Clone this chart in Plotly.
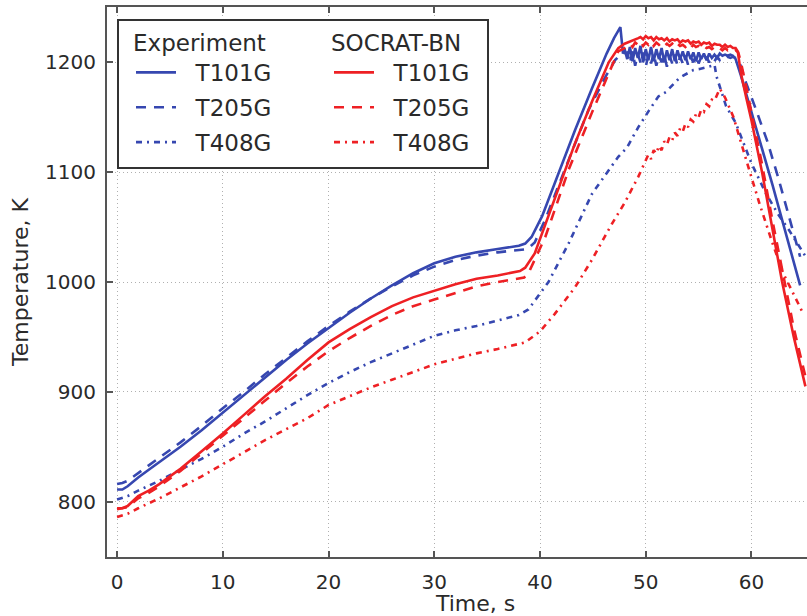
import numpy as np
import plotly.graph_objects as go

# ---------------- data ----------------
# Experiment T101G (blue solid)
exp101_t = [0, 0.5, 1, 2, 3, 4, 5, 6, 8, 10, 12, 14, 16, 18, 20, 22, 24, 26, 28, 30,
            32, 34, 36, 38, 38.6, 39.2, 40.2, 41.7, 43.3, 44.9, 46.3, 47.0, 47.6, 47.85]
exp101_T = [811, 811, 814, 822, 829, 836, 843, 850, 865, 881, 897, 913, 929, 944, 958, 972, 985, 997, 1008, 1017,
            1023, 1027, 1030, 1033, 1035, 1041, 1060, 1098, 1138, 1176, 1208, 1222, 1232, 1208]
exp101_plat_start = 48.0
exp101_plat_T = [1212, 1203, 1214, 1201, 1213, 1204, 1215, 1200, 1212, 1202, 1214, 1201, 1212, 1203,
                 1213, 1200, 1211, 1202, 1212, 1201, 1211, 1203, 1210, 1202, 1210, 1203, 1209, 1201,
                 1209, 1203, 1208, 1202, 1208, 1204, 1207, 1204, 1208, 1206, 1207, 1206, 1207, 1206]
exp101_tail_t = [58.5, 59, 60, 61, 62, 63, 64, 64.6]
exp101_tail_T = [1203, 1188, 1155, 1122, 1088, 1053, 1018, 997]

# Experiment T205G (blue dashed)
exp205_t = [0, 0.5, 1, 2, 4, 6, 8, 10, 12, 14, 16, 18, 20, 22, 24, 26, 28, 30, 32, 34, 36, 38,
            38.8, 39.5, 40.5, 42.7, 44.6, 46.2, 47.1, 47.7]
exp205_T = [816, 817, 819, 826, 840, 854, 869, 885, 900, 916, 931, 946, 960, 973, 985, 996, 1006, 1014,
            1020, 1024, 1027, 1029, 1030, 1036, 1057, 1111, 1157, 1187, 1202, 1208]
exp205_plat_start = 48.25
exp205_plat_T = [1209, 1199, 1210, 1197, 1208, 1200, 1209, 1196, 1207, 1199, 1208, 1197, 1206, 1200,
                 1207, 1196, 1206, 1199, 1207, 1197, 1205, 1199, 1206, 1198, 1205, 1200, 1206, 1199,
                 1205, 1201, 1205, 1200, 1204, 1201, 1205, 1202, 1204, 1203, 1205, 1204, 1205, 1204]
exp205_tail_t = [58.75, 59.0, 59.5, 60.5, 61.5, 62.5, 63.5, 64.6]
exp205_tail_T = [1203, 1196, 1181, 1155, 1128, 1096, 1062, 1023]

# Experiment T408G (blue dash-dot)
exp408_t = [0, 1, 2, 4, 6, 8, 10, 12, 14, 16, 18, 20, 22, 24, 26, 28, 30, 32, 34, 36, 38, 38.9,
            39.8, 40.8, 42.7, 44.9, 46.0, 47.4, 48.2, 49.3, 50.3, 51.2, 51.9, 53.2, 54.5, 55.1,
            56.3, 56.5, 56.7, 57.6, 58.5, 60.0, 61.4, 62.5, 63.5, 65.2]
exp408_T = [802, 805, 810, 819, 829, 839, 850, 862, 873, 885, 897, 908, 918, 927, 935, 943, 951, 956,
            960, 965, 970, 975, 987, 1000, 1035, 1080, 1095, 1114, 1122, 1141, 1156, 1169, 1173, 1186,
            1193, 1194, 1197, 1198, 1187, 1160, 1145, 1108, 1080, 1062, 1048, 1022]

# SOCRAT-BN T101G (red solid)
soc101_t = [0, 0.5, 1, 2, 3, 4, 5, 6, 8, 10, 12, 14, 16, 18, 20, 22, 24, 26, 28, 30, 32, 34, 36,
            38.1, 38.6, 39.5, 41.7, 43.3, 44.9, 46.5, 47.4, 48.0, 49.3]
soc101_T = [794, 794, 796, 805, 810, 816, 823, 830, 846, 862, 879, 896, 912, 929, 945, 957, 968, 978,
            986, 992, 998, 1003, 1006, 1010, 1013, 1026, 1084, 1126, 1164, 1200, 1213, 1217, 1222]
soc101_plat_start = 49.5
soc101_plat_T = [1223, 1221, 1224, 1222, 1223, 1220, 1223, 1221, 1222, 1220, 1222, 1219, 1221, 1220,
                 1221, 1218, 1220, 1219, 1220, 1217, 1219, 1218, 1219, 1216, 1218, 1217, 1218, 1215,
                 1217, 1216, 1216, 1214, 1216, 1214, 1215, 1213, 1213]
soc101_tail_t = [58.7, 59.0, 59.5, 60.0, 61.0, 62.0, 62.9, 64.0, 65.1]
soc101_tail_T = [1210, 1190, 1168, 1147, 1100, 1047, 1000, 950, 905]

# SOCRAT-BN T205G (red dashed)
soc205_t = [0, 1, 2, 3, 4, 5, 6, 8, 10, 12, 14, 16, 18, 20, 22, 24, 26, 28, 30, 32, 34, 36, 38.5,
            39.0, 40.5, 42.7, 44.9, 46.5, 47.4, 48.0]
soc205_T = [793, 795, 803, 808, 814, 821, 828, 844, 860, 876, 892, 908, 923, 937, 949, 960, 970, 978,
            984, 990, 996, 1000, 1004, 1010, 1041, 1102, 1154, 1190, 1210, 1213]
soc205_plat_start = 48.25
soc205_plat_T = [1215, 1217, 1214, 1218, 1216, 1219, 1215, 1218, 1216, 1219, 1215, 1218, 1216, 1218,
                 1215, 1217, 1215, 1217, 1214, 1217, 1215, 1216, 1214, 1216, 1213, 1216, 1214, 1215,
                 1213, 1215, 1213, 1214, 1212, 1214, 1212, 1213, 1211, 1213, 1211, 1212, 1210, 1211, 1209]
soc205_tail_t = [59.0, 59.5, 60.0, 61.0, 62.0, 63.0, 64.0, 65.2]
soc205_tail_T = [1200, 1178, 1155, 1107, 1055, 1006, 958, 910]

# SOCRAT-BN T408G (red dash-dot)
soc408_t = [0, 1, 2, 4, 6, 8, 10, 12, 14, 16, 18, 20, 22, 24, 26, 28, 30, 32, 34, 36, 38.6, 40.0,
            41.4, 43.3, 44.9, 46.8, 48.0, 49.3, 49.9]
soc408_T = [786, 789, 794, 803, 813, 823, 834, 845, 856, 866, 876, 888, 896, 904, 911, 918, 925, 930,
            935, 939, 945, 955, 971, 995, 1020, 1053, 1072, 1096, 1108]
soc408_noise_start = 50.0
soc408_noise_T = [1110, 1116, 1112, 1120, 1117, 1124, 1120, 1128, 1125, 1132, 1129, 1136, 1133, 1140,
                  1137, 1144, 1141, 1148, 1146, 1153, 1150, 1157, 1155, 1162, 1160, 1166, 1165, 1171, 1176]
soc408_tail_t = [57.5, 58.3, 59.6, 60.8, 62.0, 63.0, 64.8]
soc408_tail_T = [1168, 1150, 1108, 1070, 1035, 1008, 973]

x_ticks = [0, 10, 20, 30, 40, 50, 60]
y_ticks = [800, 900, 1000, 1100, 1200]
x_range = [-0.95, 65.25]
y_range = [749.6, 1250.4]

BLUE = "#3647b0"
RED = "#ee2024"
FONT = "DejaVu Sans"
NB = "\u00a0\u00a0"


def join(t_a, v_a, start, plat, t_b, v_b):
    tp = [start + 0.25 * i for i in range(len(plat))]
    return list(t_a) + tp + list(t_b), list(v_a) + list(plat) + list(v_b)


series = [
    ("T101G", "legend", BLUE, "solid", *join(exp101_t, exp101_T, exp101_plat_start, exp101_plat_T, exp101_tail_t, exp101_tail_T)),
    ("T205G", "legend", BLUE, "10px,8px", *join(exp205_t, exp205_T, exp205_plat_start, exp205_plat_T, exp205_tail_t, exp205_tail_T)),
    ("T408G", "legend", BLUE, "6px,5px,2px,5px", exp408_t, exp408_T),
    ("T101G", "legend2", RED, "solid", *join(soc101_t, soc101_T, soc101_plat_start, soc101_plat_T, soc101_tail_t, soc101_tail_T)),
    ("T205G", "legend2", RED, "10px,8px", *join(soc205_t, soc205_T, soc205_plat_start, soc205_plat_T, soc205_tail_t, soc205_tail_T)),
    ("T408G", "legend2", RED, "6px,5px,2px,5px", *join(soc408_t, soc408_T, soc408_noise_start, soc408_noise_T, soc408_tail_t, soc408_tail_T)),
]

fig = go.Figure()
for i, (name, leg, color, dash, xs, ys) in enumerate(series):
    fig.add_trace(go.Scatter(
        x=xs, y=ys, mode="lines", name=NB + name, legend=leg,
        legendgroup=f"g{i}",
        line=dict(color=color, width=2.6, dash=dash),
    ))

W, H = 807, 616
L, R, T, B = 107, 0, 7, 59
pw, ph = W - L - R, H - T - B


def px_x(p):
    return (p - L) / pw


def px_y(p):
    return (H - B - p) / ph


axis_common = dict(
    showline=True, linecolor="#555555", linewidth=2,
    ticks="inside", ticklen=6, tickwidth=1.5, tickcolor="#555555",
    showgrid=True, gridcolor="#b0b0b0", gridwidth=1, griddash="1px,3px",
    zeroline=False, automargin=False,
    tickfont=dict(family=FONT, size=20, color="#2a2a2a"),
)

fig.update_layout(
    width=W, height=H,
    margin=dict(l=L, r=R, t=T, b=B, autoexpand=False),
    paper_bgcolor="white", plot_bgcolor="white",
    font=dict(family=FONT, color="#2a2a2a"),
    xaxis=dict(range=x_range, tickvals=x_ticks, ticklabelstandoff=6, mirror="ticks", **axis_common),
    yaxis=dict(range=y_range, tickvals=y_ticks, ticklabelstandoff=5, mirror=False,
               title=dict(text="Temperature, K", font=dict(family=FONT, size=22, color="#2a2a2a"), standoff=10),
               **axis_common),
    showlegend=True,
    legend=dict(
        title=dict(text="Experiment", side="top", font=dict(family=FONT, size=23, color="#2a2a2a")),
        x=px_x(131), y=px_y(21), xanchor="left", yanchor="top",
        bgcolor="rgba(0,0,0,0)", borderwidth=0, font=dict(family=FONT, size=23, color="#2a2a2a"),
        traceorder="grouped", tracegroupgap=2, itemwidth=40,
    ),
    legend2=dict(
        title=dict(text="SOCRAT-BN", side="top", font=dict(family=FONT, size=23, color="#2a2a2a")),
        x=px_x(329), y=px_y(21), xanchor="left", yanchor="top",
        bgcolor="rgba(0,0,0,0)", borderwidth=0, font=dict(family=FONT, size=23, color="#2a2a2a"),
        traceorder="grouped", tracegroupgap=2, itemwidth=40,
    ),
    shapes=[dict(type="rect", xref="paper", yref="paper",
                 x0=px_x(118), x1=px_x(488), y0=px_y(168), y1=px_y(20),
                 line=dict(color="#333333", width=2), fillcolor="white", layer="above")],
    annotations=[dict(text="Time, s", xref="paper", yref="paper", x=px_x(475), y=px_y(603),
                      xanchor="center", yanchor="middle", showarrow=False,
                      font=dict(family=FONT, size=22, color="#2a2a2a"))],
)

fig.write_html("out.html", config={"displayModeBar": False},
               post_script="document.body.style.margin='0';document.body.style.overflow='hidden';")
